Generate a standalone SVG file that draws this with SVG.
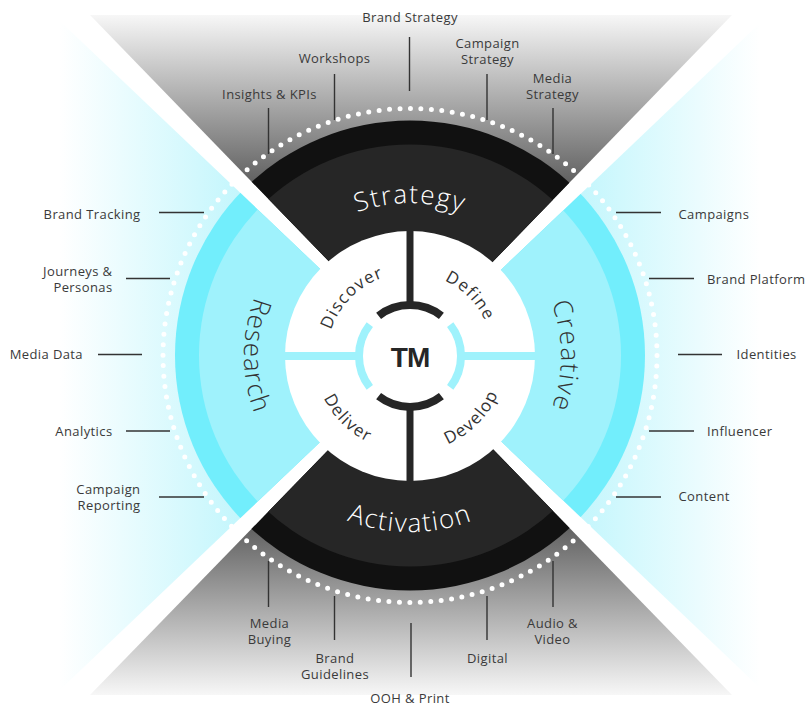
<svg xmlns="http://www.w3.org/2000/svg" width="809" height="706" viewBox="0 0 809 706">
<defs>
<linearGradient id="gTop" gradientUnits="userSpaceOnUse" x1="0" y1="15" x2="0" y2="240"><stop offset="0" stop-color="#f7f7f7"/><stop offset="1" stop-color="#2e2e2e"/></linearGradient>
<linearGradient id="gBot" gradientUnits="userSpaceOnUse" x1="0" y1="695" x2="0" y2="470"><stop offset="0" stop-color="#f7f7f7"/><stop offset="1" stop-color="#2e2e2e"/></linearGradient>
<linearGradient id="gLeft" gradientUnits="userSpaceOnUse" x1="60" y1="0" x2="260" y2="0"><stop offset="0" stop-color="#ffffff"/><stop offset="1" stop-color="#bdf5fc"/></linearGradient>
<linearGradient id="gRight" gradientUnits="userSpaceOnUse" x1="760" y1="0" x2="560" y2="0"><stop offset="0" stop-color="#ffffff"/><stop offset="1" stop-color="#bdf5fc"/></linearGradient>
<clipPath id="cTop"><polygon points="90,15 732,15 411,346"/></clipPath>
<clipPath id="cBot"><polygon points="90,695 732,695 411,365"/></clipPath>
<clipPath id="cLeft"><polygon points="0,-36 411,355.5 0,747"/></clipPath>
<clipPath id="cRight"><polygon points="822,-36 411,355.5 822,747"/></clipPath>
<path id="pStrategy" d="M257,356 A153,153 0 0 1 563,356"/>
<path id="pActivation" d="M234,356 A176,176 0 0 0 586,356"/>
<path id="pResearch" d="M410,190 A166,166 0 0 0 410,522"/>
<path id="pCreative" d="M410,205 A151,151 0 0 1 410,507"/>
<path id="pDiscover" d="M327,356 A83,83 0 0 1 410,273"/>
<path id="pDefine" d="M410,273 A83,83 0 0 1 493,356"/>
<path id="pDeliver" d="M314,356 A96,96 0 0 0 410,452"/>
<path id="pDevelop" d="M410,452 A96,96 0 0 0 506,356"/>
</defs>
<style>
.lbl{font-family:"Open Sans","Liberation Sans",sans-serif;font-size:13px;letter-spacing:0.4px;fill:#3a3a3a}
.big{font-family:"Open Sans","Liberation Sans",sans-serif;font-size:26px;font-weight:300;letter-spacing:1.6px}
.quad{font-family:"Open Sans","Liberation Sans",sans-serif;font-size:17px;fill:#333;letter-spacing:1.2px}
.tick{stroke:#333;stroke-width:1.4;fill:none}
</style>
<rect width="809" height="706" fill="#ffffff"/>
<g id="backgrounds">
<polygon points="90,15 732,15 411,346" fill="url(#gTop)"/>
<polygon points="90,695 732,695 411,365" fill="url(#gBot)"/>
<polygon points="0,-36 411,355.5 0,747" fill="url(#gLeft)"/>
<polygon points="822,-36 411,355.5 822,747" fill="url(#gRight)"/>
</g>
<circle cx="410" cy="355.5" r="247" fill="none" stroke="#ffffff" stroke-width="5" stroke-linecap="round" stroke-dasharray="0 10.486"/>
<g id="strategy">
<g clip-path="url(#cTop)"><circle cx="410" cy="355.5" r="235" fill="#111111"/><circle cx="410" cy="355.5" r="211" fill="#262626"/></g>
<text class="big" fill="#ffffff"><textPath href="#pStrategy" startOffset="50%" text-anchor="middle">Strategy</textPath></text>
</g>
<g id="activation">
<g clip-path="url(#cBot)"><circle cx="410" cy="355.5" r="235" fill="#111111"/><circle cx="410" cy="355.5" r="211" fill="#262626"/></g>
<text class="big" fill="#ffffff"><textPath href="#pActivation" startOffset="50%" text-anchor="middle">Activation</textPath></text>
</g>
<g id="research">
<g clip-path="url(#cLeft)"><circle cx="410" cy="355.5" r="235" fill="#72eefc"/><circle cx="410" cy="355.5" r="211" fill="#9ff2fc"/></g>
<text class="big" fill="#333333"><textPath href="#pResearch" startOffset="50%" text-anchor="middle">Research</textPath></text>
</g>
<g id="creative">
<g clip-path="url(#cRight)"><circle cx="410" cy="355.5" r="235" fill="#72eefc"/><circle cx="410" cy="355.5" r="211" fill="#9ff2fc"/></g>
<text class="big" fill="#333333"><textPath href="#pCreative" startOffset="50%" text-anchor="middle">Creative</textPath></text>
</g>
<g id="hub">
<circle cx="410" cy="356" r="125" fill="#ffffff"/>
<line x1="410" y1="230" x2="410" y2="306" stroke="#262626" stroke-width="7"/>
<line x1="410" y1="406" x2="410" y2="482" stroke="#262626" stroke-width="7"/>
<line x1="285" y1="356" x2="360" y2="356" stroke="#9ff2fc" stroke-width="8"/>
<line x1="460" y1="356" x2="535" y2="356" stroke="#9ff2fc" stroke-width="8"/>
<path d="M378.6,315.8 A51,51 0 0 1 441.4,315.8" fill="none" stroke="#262626" stroke-width="8"/>
<path d="M378.6,396.2 A51,51 0 0 0 441.4,396.2" fill="none" stroke="#262626" stroke-width="8"/>
<path d="M369.8,324.6 A51,51 0 0 0 369.8,387.4" fill="none" stroke="#9ff2fc" stroke-width="8"/>
<path d="M450.2,324.6 A51,51 0 0 1 450.2,387.4" fill="none" stroke="#9ff2fc" stroke-width="8"/>
</g>
<g id="tm"><text x="410" y="366.5" text-anchor="middle" font-family="Liberation Sans, Arial, sans-serif" font-weight="bold" font-size="28" letter-spacing="-1" fill="#262626">TM</text></g>
<g id="discover"><text class="quad"><textPath href="#pDiscover" startOffset="50%" text-anchor="middle">Discover</textPath></text></g>
<g id="define"><text class="quad"><textPath href="#pDefine" startOffset="50%" text-anchor="middle">Define</textPath></text></g>
<g id="deliver"><text class="quad"><textPath href="#pDeliver" startOffset="50%" text-anchor="middle">Deliver</textPath></text></g>
<g id="develop"><text class="quad"><textPath href="#pDevelop" startOffset="50%" text-anchor="middle">Develop</textPath></text></g>
<g id="connectors">
<line class="tick" x1="409.5" y1="37" x2="409.5" y2="91"/>
<line class="tick" x1="334.5" y1="74" x2="334.5" y2="120"/>
<line class="tick" x1="487" y1="74" x2="487" y2="120"/>
<line class="tick" x1="268.5" y1="108" x2="268.5" y2="154"/>
<line class="tick" x1="553" y1="108" x2="553" y2="154"/>
<line class="tick" x1="159" y1="212.5" x2="204" y2="212.5"/>
<line class="tick" x1="126" y1="278.5" x2="170" y2="278.5"/>
<line class="tick" x1="98" y1="354.5" x2="142" y2="354.5"/>
<line class="tick" x1="126" y1="431" x2="170" y2="431"/>
<line class="tick" x1="159" y1="497" x2="204" y2="497"/>
<line class="tick" x1="616" y1="212.5" x2="661" y2="212.5"/>
<line class="tick" x1="649" y1="278.5" x2="694" y2="278.5"/>
<line class="tick" x1="678" y1="354.5" x2="722" y2="354.5"/>
<line class="tick" x1="649" y1="431" x2="694" y2="431"/>
<line class="tick" x1="616" y1="497" x2="661" y2="497"/>
<line class="tick" x1="268.5" y1="561" x2="268.5" y2="607"/>
<line class="tick" x1="334.5" y1="596" x2="334.5" y2="640"/>
<line class="tick" x1="411" y1="623" x2="411" y2="677"/>
<line class="tick" x1="487" y1="596" x2="487" y2="640"/>
<line class="tick" x1="553" y1="561" x2="553" y2="607"/>
</g>
<g id="label-brand-strategy"><text class="lbl" x="410" y="22" text-anchor="middle">Brand Strategy</text></g>
<g id="label-workshops"><text class="lbl" x="334.5" y="63" text-anchor="middle">Workshops</text></g>
<g id="label-campaign-strategy"><text class="lbl" x="487.5" y="47.5" text-anchor="middle">Campaign<tspan x="487.5" dy="16">Strategy</tspan></text></g>
<g id="label-insights"><text class="lbl" x="269.5" y="99" text-anchor="middle">Insights &amp; KPIs</text></g>
<g id="label-media-strategy"><text class="lbl" x="552.5" y="83" text-anchor="middle">Media<tspan x="552.5" dy="16">Strategy</tspan></text></g>
<g id="label-brand-tracking"><text class="lbl" x="140.5" y="219" text-anchor="end">Brand Tracking</text></g>
<g id="label-journeys"><text class="lbl" x="112.5" y="276" text-anchor="end">Journeys &amp;<tspan x="112.5" dy="16">Personas</tspan></text></g>
<g id="label-media-data"><text class="lbl" x="83" y="359" text-anchor="end">Media Data</text></g>
<g id="label-analytics"><text class="lbl" x="112.5" y="436" text-anchor="end">Analytics</text></g>
<g id="label-campaign-reporting"><text class="lbl" x="140.5" y="494" text-anchor="end">Campaign<tspan x="140.5" dy="16">Reporting</tspan></text></g>
<g id="label-campaigns"><text class="lbl" x="678.5" y="219" text-anchor="start">Campaigns</text></g>
<g id="label-brand-platform"><text class="lbl" x="707" y="284" text-anchor="start">Brand Platform</text></g>
<g id="label-identities"><text class="lbl" x="736.5" y="359" text-anchor="start">Identities</text></g>
<g id="label-influencer"><text class="lbl" x="707" y="436" text-anchor="start">Influencer</text></g>
<g id="label-content"><text class="lbl" x="678.5" y="501" text-anchor="start">Content</text></g>
<g id="label-media-buying"><text class="lbl" x="269.5" y="627.5" text-anchor="middle">Media<tspan x="269.5" dy="16">Buying</tspan></text></g>
<g id="label-brand-guidelines"><text class="lbl" x="335" y="663" text-anchor="middle">Brand<tspan x="335" dy="16">Guidelines</tspan></text></g>
<g id="label-ooh"><text class="lbl" x="410" y="702.5" text-anchor="middle">OOH &amp; Print</text></g>
<g id="label-digital"><text class="lbl" x="487.5" y="663" text-anchor="middle">Digital</text></g>
<g id="label-audio-video"><text class="lbl" x="552.5" y="627.5" text-anchor="middle">Audio &amp;<tspan x="552.5" dy="16">Video</tspan></text></g>
</svg>
